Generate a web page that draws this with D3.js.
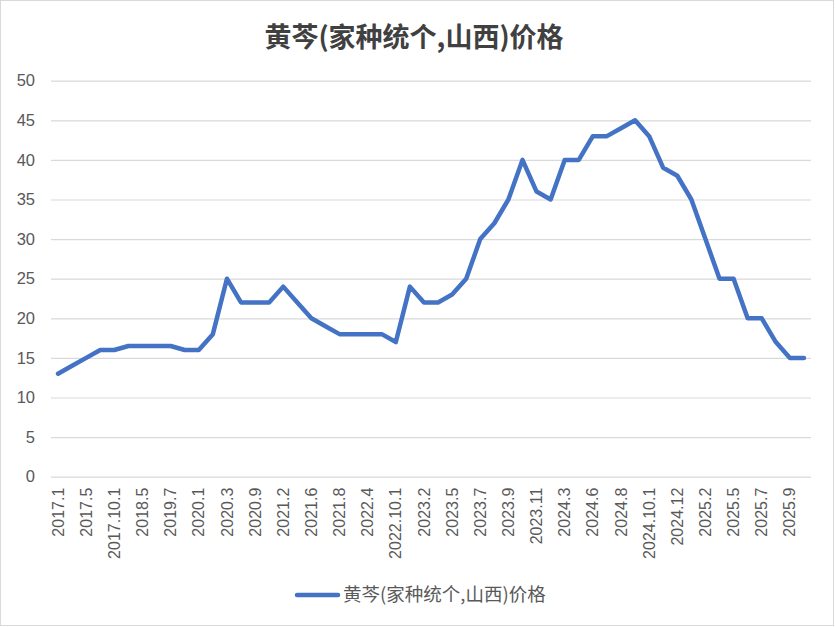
<!DOCTYPE html>
<html><head><meta charset="utf-8">
<script src="https://cdn.jsdelivr.net/npm/d3@7"></script>
<style>body{margin:0;background:#fff;}svg{display:block;}</style>
</head><body><svg id="c" width="835" height="627"></svg>
<script>
const title = "黄芩(家种统个,山西)价格";
const seriesName = "黄芩(家种统个,山西)价格";
const labels = ["2017.1","","2017.5","","2017.10.1","","2018.5","","2019.7","","2020.1","","2020.3","","2020.9","","2021.2","","2021.6","","2021.8","","2022.4","","2022.10.1","","2023.2","","2023.5","","2023.7","","2023.9","","2023.11","","2024.3","","2024.6","","2024.8","","2024.10.1","","2024.12","","2025.2","","2025.5","","2025.7","","2025.9",""];
const values = [13,14,15,16,16,16.5,16.5,16.5,16.5,16,16,18,25,22,22,22,24,22,20,19,18,18,18,18,17,24,22,22,23,25,30,32,35,40,36,35,40,40,43,43,44,45,43,39,38,35,30,25,25,20,20,17,15,15];
const yTicks = [0,5,10,15,20,25,30,35,40,45,50];

(function(){
const svg = d3.select("#c");
const W = 835, H = 627;
svg.append("rect").attr("x",0.5).attr("y",0.5).attr("width",W-2).attr("height",H-2)
  .attr("fill","#fff").attr("stroke","#d9d9d9").attr("stroke-width",1);

const pL = 51, pR = 811, pT = 80.7, pB = 476.7;
const x = d3.scaleBand().domain(d3.range(values.length)).range([pL,pR]);
const y = d3.scaleLinear().domain([0,50]).range([pB,pT]);

svg.append("text").attr("x",414).attr("y",47).attr("text-anchor","middle")
  .attr("font-family","'Noto Sans CJK SC'").attr("font-weight","bold").attr("font-size",27)
  .attr("fill","#404040").text(title);

const ga = svg.append("g").attr("transform",`translate(${pL},0)`)
  .call(d3.axisLeft(y).tickValues(yTicks).tickSize(-(pR-pL)).tickPadding(16));
ga.select(".domain").remove();
ga.selectAll(".tick line").attr("stroke","#d9d9d9").attr("stroke-width",1.2);
ga.selectAll(".tick text").attr("font-family","'Liberation Sans'").attr("font-size",16.5).attr("fill","#595959");

const xa = svg.append("g").attr("transform",`translate(0,${pB})`)
  .call(d3.axisBottom(x).tickSize(0).tickFormat(i=>labels[i]));
xa.select(".domain").remove();
xa.selectAll(".tick text").attr("transform","rotate(-90)").attr("text-anchor","end")
  .attr("x",-11).attr("y",0).attr("dy","0.35em")
  .attr("font-family","'Liberation Sans'").attr("font-size",16).attr("fill","#595959");

const line = d3.line().x((d,i)=>x(i)+x.bandwidth()/2).y(d=>y(d));
svg.append("path").datum(values).attr("d",line).attr("fill","none")
  .attr("stroke","#4472C4").attr("stroke-width",4.5).attr("stroke-linejoin","round").attr("stroke-linecap","round");

const lg = svg.append("g");
lg.append("line").attr("x1",297).attr("x2",338).attr("y1",595).attr("y2",595)
  .attr("stroke","#4472C4").attr("stroke-width",4.5).attr("stroke-linecap","round");
lg.append("text").attr("x",343).attr("y",595).attr("dy","0.35em")
  .attr("font-family","'Noto Sans CJK SC'").attr("font-size",18.5).attr("fill","#595959").text(seriesName);
})();
</script></body></html>
